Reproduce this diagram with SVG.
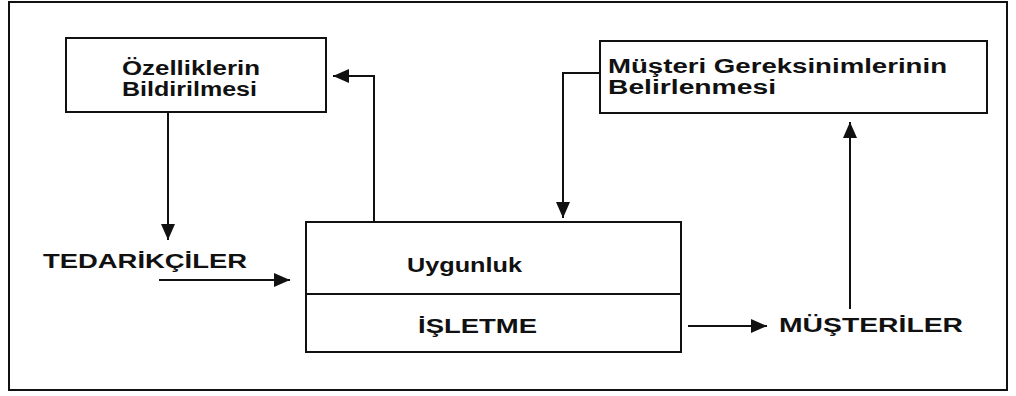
<svg xmlns="http://www.w3.org/2000/svg" width="1016" height="396" viewBox="0 0 1016 396">
<defs>
<style>
.box{fill:none;stroke:#111;stroke-width:2}
.ln{fill:none;stroke:#111;stroke-width:2}
.t{font-family:"Liberation Sans",Arial,sans-serif;font-weight:bold;font-size:20px;fill:#111}
</style>
<marker id="ah" markerUnits="userSpaceOnUse" markerWidth="18" markerHeight="16" refX="16" refY="7" orient="auto">
<path d="M0,0 L16,7 L0,14 Z" fill="#111"/>
</marker>
</defs>
<rect x="0" y="0" width="1016" height="396" fill="#fff"/>
<rect x="9" y="2" width="998" height="388" class="box"/>
<g id="ozellikler">
<rect x="66" y="38" width="260" height="74" class="box"/>
<text class="t" x="122" y="75" textLength="138" lengthAdjust="spacingAndGlyphs">Özelliklerin</text>
<text class="t" x="122" y="96" textLength="135" lengthAdjust="spacingAndGlyphs">Bildirilmesi</text>
</g>
<g id="musteri-gereksinim">
<rect x="600" y="41" width="387" height="72" class="box"/>
<text class="t" x="608" y="73" textLength="339" lengthAdjust="spacingAndGlyphs">Müşteri Gereksinimlerinin</text>
<text class="t" x="608" y="94" textLength="168" lengthAdjust="spacingAndGlyphs">Belirlenmesi</text>
</g>
<g id="isletme">
<rect x="306" y="222" width="375" height="130" class="box"/>
<line x1="306" y1="294" x2="681" y2="294" class="ln"/>
<text class="t" x="407" y="272" textLength="115" lengthAdjust="spacingAndGlyphs">Uygunluk</text>
<text class="t" x="418" y="333" textLength="119" lengthAdjust="spacingAndGlyphs">İŞLETME</text>
</g>
<g id="tedarikciler">
<text class="t" x="43" y="268" font-size="21" textLength="204" lengthAdjust="spacingAndGlyphs">TEDARİKÇİLER</text>
</g>
<g id="musteriler">
<text class="t" x="779" y="332" font-size="21" textLength="184" lengthAdjust="spacingAndGlyphs">MÜŞTERİLER</text>
</g>
<g id="connectors">
<path d="M168,112 V240" class="ln" marker-end="url(#ah)"/>
<path d="M374,222 V76 H333" class="ln" marker-end="url(#ah)"/>
<path d="M600,73 H563 V218" class="ln" marker-end="url(#ah)"/>
<path d="M159,280 H290" class="ln" marker-end="url(#ah)"/>
<path d="M688,326 H767" class="ln" marker-end="url(#ah)"/>
<path d="M850,309 V122" class="ln" marker-end="url(#ah)"/>
</g>
</svg>
